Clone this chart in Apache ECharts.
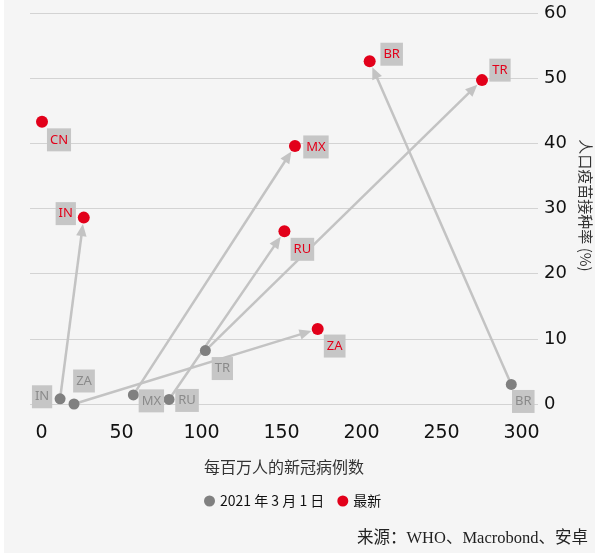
<!DOCTYPE html>
<html>
<head>
<meta charset="utf-8">
<script src="https://cdn.jsdelivr.net/npm/echarts@6/dist/echarts.min.js"></script>
<style>
  html, body { margin: 0; padding: 0; background: #ffffff; }
  #bg { position: absolute; left: 4px; top: 0; width: 591px; height: 553px; background: #f5f5f5; }
  #chart { position: absolute; left: 0; top: 0; width: 595px; height: 556px; }
</style>
</head>
<body>
<div id="bg"></div>
<div id="chart"></div>
<script>
// Countries and their COVID cases per million vs. share of population vaccinated
const countries = ['CN', 'IN', 'MX', 'BR', 'TR', 'RU', 'ZA'];

// 2021-03-01 snapshot (CN has no earlier point)
const march1Cases = [null, 11.6, 57.4, 293.6, 102.4, 79.7, 20.3];
const march1Vacc  = [null, 0.8, 1.4, 3.0, 8.2, 0.7, 0.0];

// Latest snapshot
const latestCases = [0.3, 26.4, 158.4, 205.1, 275.3, 151.8, 172.6];
const latestVacc  = [43.3, 28.6, 39.6, 52.6, 49.7, 26.5, 11.5];

const xTicks = [0, 50, 100, 150, 200, 250, 300];
const yTicks = [0, 10, 20, 30, 40, 50, 60];

const seriesNames = ['2021 年 3 月 1 日', '最新'];

// Label placement (pixel offset from the dot centre)
const latestLabelOffset = {
  CN: [17, 18], IN: [-18, -4], MX: [21, 1], BR: [22, -7],
  TR: [18, -10], RU: [18, 18], ZA: [17, 17]
};
const marchLabelOffset = {
  IN: [-18, -2], ZA: [10, -23], MX: [18, 6], RU: [18, 1],
  TR: [17, 18], BR: [12, 17]
};

const RED = '#e2001a';
const GREY_DOT = '#808080';
const ARROW = '#c3c3c3';
const LABEL_BOX = '#c6c6c6';

function labelFor(color) {
  return {
    show: true,
    position: 'inside',
    formatter: '{b}',
    color: color,
    fontFamily: 'Noto Sans',
    fontSize: 13,
    lineHeight: 15,
    backgroundColor: LABEL_BOX,
    padding: [4, 3]
  };
}

const marchData = [];
const marchOffsets = [];
const latestData = [];
const latestOffsets = [];
const arrowData = [];
countries.forEach((c, i) => {
  if (march1Cases[i] != null) {
    marchData.push({ name: c, value: [march1Cases[i], march1Vacc[i]] });
    marchOffsets.push(marchLabelOffset[c]);
    arrowData.push([march1Cases[i], march1Vacc[i], latestCases[i], latestVacc[i]]);
  }
  latestData.push({ name: c, value: [latestCases[i], latestVacc[i]] });
  latestOffsets.push(latestLabelOffset[c]);
});

function shiftLabel(offsets) {
  return function (params) {
    const o = offsets[params.dataIndex];
    return { dx: o[0], dy: o[1], hideOverlap: false };
  };
}

const chart = echarts.init(document.getElementById('chart'), null, { renderer: 'canvas' });

// Connector from the 1 March point to the latest point, ending in an arrowhead
// that stops at the edge of the latest dot.
function renderArrow(params, api) {
  const a = api.coord([api.value(0), api.value(1)]);
  const b = api.coord([api.value(2), api.value(3)]);
  const dx = b[0] - a[0], dy = b[1] - a[1];
  const len = Math.hypot(dx, dy);
  const ux = dx / len, uy = dy / len;
  const R = 6.5, H = 12, W = 10.5;
  const tip = [b[0] - ux * R, b[1] - uy * R];
  const base = [tip[0] - ux * H, tip[1] - uy * H];
  const nx = -uy, ny = ux;
  return {
    type: 'group',
    children: [
      {
        type: 'line',
        shape: { x1: a[0], y1: a[1], x2: base[0] + ux * 2, y2: base[1] + uy * 2 },
        style: { stroke: ARROW, lineWidth: 2.5 }
      },
      {
        type: 'polygon',
        shape: {
          points: [
            tip,
            [base[0] + nx * W / 2, base[1] + ny * W / 2],
            [base[0] - nx * W / 2, base[1] - ny * W / 2]
          ]
        },
        style: { fill: ARROW }
      }
    ]
  };
}

chart.setOption({
  backgroundColor: 'transparent',
  animation: false,
  grid: { left: 30, right: 57, top: 13, bottom: 152, outerBoundsMode: 'none', containLabel: false },
  xAxis: {
    type: 'value',
    min: -7.2,
    max: 310.3,
    name: '每百万人的新冠病例数',
    nameLocation: 'middle',
    nameGap: 55,
    nameTextStyle: { color: '#333', fontSize: 16, fontFamily: 'Noto Sans CJK SC' },
    axisLine: { show: false },
    axisTick: { show: false },
    splitLine: { show: false },
    axisLabel: {
      customValues: xTicks,
      color: '#111',
      fontSize: 19,
      fontFamily: 'DejaVu Sans',
      margin: 20
    }
  },
  yAxis: {
    type: 'value',
    position: 'right',
    min: yTicks[0],
    max: yTicks[yTicks.length - 1],
    interval: 10,
    name: '人口疫苗接种率 (%)',
    nameLocation: 'middle',
    nameRotate: -90,
    nameGap: 36,
    nameTextStyle: { color: '#333', fontSize: 15, fontFamily: 'Noto Sans CJK SC', padding: [0, 6, 0, 0] },
    axisLine: { show: false },
    axisTick: { show: false },
    splitLine: { show: true, lineStyle: { color: '#d3d3d3', width: 1 } },
    axisLabel: {
      color: '#111',
      fontSize: 18,
      fontFamily: 'DejaVu Sans',
      margin: 6
    }
  },
  legend: {
    data: [
      { name: seriesNames[0], itemStyle: { color: GREY_DOT } },
      { name: seriesNames[1], itemStyle: { color: RED } }
    ],
    icon: 'circle',
    itemWidth: 11,
    itemHeight: 11,
    itemGap: 13,
    left: 199,
    top: 489,
    textStyle: { color: '#111', fontSize: 14, fontFamily: 'Noto Sans CJK SC' }
  },
  graphic: [
    {
      type: 'text',
      right: 7,
      top: 530,
      style: {
        text: '来源：WHO、Macrobond、安卓',
        fill: '#222',
        fontSize: 16.5,
        fontFamily: '"Liberation Serif", "Noto Sans CJK SC"'
      }
    }
  ],
  series: [
    {
      type: 'custom',
      name: 'arrows',
      renderItem: renderArrow,
      encode: { x: [0, 2], y: [1, 3] },
      data: arrowData,
      z: 3,
      silent: true
    },
    {
      type: 'scatter',
      name: seriesNames[0],
      symbol: 'circle',
      symbolSize: 11,
      itemStyle: { color: GREY_DOT, opacity: 1 },
      label: labelFor('#8a8a8a'),
      labelLayout: shiftLabel(marchOffsets),
      data: marchData,
      z: 4
    },
    {
      type: 'scatter',
      name: seriesNames[1],
      symbol: 'circle',
      symbolSize: 12,
      itemStyle: { color: RED, opacity: 1 },
      label: labelFor(RED),
      labelLayout: shiftLabel(latestOffsets),
      data: latestData,
      z: 5
    }
  ]
});
</script>
</body>
</html>
